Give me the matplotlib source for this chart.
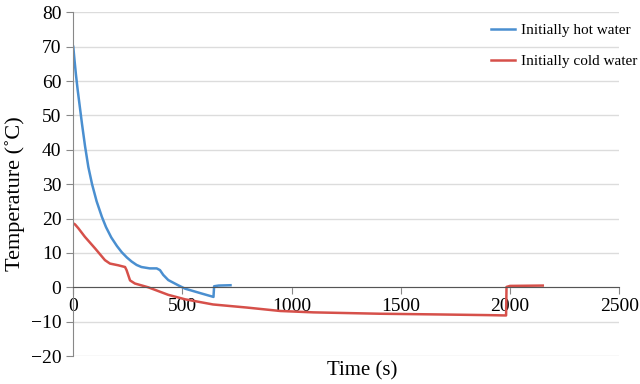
import matplotlib
matplotlib.use("Agg")
import matplotlib.pyplot as plt

# values
hot_time = [0, 5, 12, 20, 30, 40, 54, 69, 86, 107, 131, 150, 174, 200, 222, 245, 267, 290, 312, 350, 382, 397, 412, 435, 480, 512, 587, 642, 645, 665, 720]
hot_temp = [70, 66.5, 62, 57.5, 52.5, 47.5, 41, 35, 30, 25, 20.5, 17.5, 14.5, 12, 10.2, 8.7, 7.5, 6.5, 5.9, 5.5, 5.5, 5.0, 3.6, 2.1, 0.6, -0.4, -1.8, -2.8, 0.3, 0.5, 0.6]

cold_time = [0, 8, 23, 53, 100, 145, 168, 206, 237, 244, 260, 282, 343, 435, 512, 640, 795, 948, 1100, 1405, 1665, 1900, 1982, 1984, 2000, 2150]
cold_temp = [18.6, 18.3, 17.2, 14.7, 11.3, 7.9, 6.9, 6.4, 5.9, 5.0, 2.0, 1.1, 0, -2.2, -3.5, -5.0, -5.9, -6.9, -7.3, -7.7, -7.9, -8.1, -8.2, 0.1, 0.4, 0.5]

x_ticks = [0, 500, 1000, 1500, 2000, 2500]
y_ticks = [-20, -10, 0, 10, 20, 30, 40, 50, 60, 70, 80]

plt.rcParams['font.family'] = ['Liberation Serif', 'DejaVu Serif']

fig = plt.figure(figsize=(6.4, 3.84), dpi=100)
ax = fig.add_axes([0.1145, 0.0729, 0.853, 0.8948])

ax.plot(hot_time, hot_temp, color='#4a8fd0', lw=1.8, label='Initially hot water')
ax.plot(cold_time, cold_temp, color='#d6504a', lw=1.8, label='Initially cold water')

ax.set_xlim(0, 2500)
ax.set_ylim(-20, 80)
ax.set_xticks(x_ticks)
ax.set_yticks(y_ticks)
ax.yaxis.grid(True, color='#dcdcdc', lw=1)
ax.set_axisbelow(True)

for s in ['top', 'right']:
    ax.spines[s].set_visible(False)
ax.spines['left'].set_color('#888888')
ax.spines['bottom'].set_color('#555555')
ax.spines['bottom'].set_position(('data', 0))
ax.tick_params(axis='both', direction='out', length=5, color='#888888', labelsize=14)
ax.tick_params(axis='x', pad=3)

fig.text(0.566, 0.035, 'Time (s)', ha='center', va='center', fontsize=15)
fig.text(0.023, 0.497, 'Temperature (\u02daC)', ha='center', va='center', rotation=90, fontsize=16)

fig.legend(loc='upper left', bbox_to_anchor=(0.745, 0.975), frameon=False, fontsize=11,
           handlelength=1.6, handletextpad=0.4, labelspacing=1.15)

fig.savefig('out.png', dpi=100)
